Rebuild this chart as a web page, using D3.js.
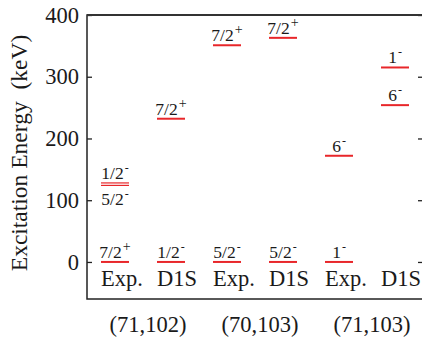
<!DOCTYPE html>
<html>
<head>
<meta charset="utf-8">
<script src="https://cdn.jsdelivr.net/npm/d3@7"></script>
<style>
  body { margin: 0; background: #fff; }
  svg { display: block; }
  svg text { font-family: "Times New Roman", Times, "Liberation Serif", serif; fill: #1a1a1a; }
</style>
</head>
<body>
<div id="chart"></div>
<script>
// nuclei and methods, one column per (nucleus, method)
const groups = ["(71,102)", "(70,103)", "(71,103)"];
const methods = ["Exp.", "D1S"];
const yTicks = [0, 100, 200, 300, 400];

// levels: column index, energy (keV), spin, parity
const levelColumn = [0, 0, 0, 1, 1, 2, 2, 3, 3, 4, 4, 5, 5];
const levelEnergy = [0, 128, 124, 0, 232, 0, 351, 0, 363, 0, 172, 315, 254];
const levelSpin   = ["7/2", "1/2", "5/2", "1/2", "7/2", "5/2", "7/2", "5/2", "7/2", "1", "6", "1", "6"];
const levelParity = ["+", "-", "-", "-", "+", "-", "+", "-", "+", "-", "-", "-", "-"];

const W = 422, H = 340;
const margin = { top: 15, right: -1, bottom: 41, left: 87 };
const serif = "'Times New Roman', Times, 'Liberation Serif', serif";

const svg = d3.select("#chart").append("svg")
  .attr("width", W)
  .attr("height", H);

const columns = [];
groups.forEach(g => methods.forEach(m => columns.push(g + " " + m)));

const x = d3.scaleBand()
  .domain(columns)
  .range([margin.left, W - margin.right])
  .paddingInner(0.5)
  .paddingOuter(0.25);

const y = d3.scaleLinear()
  .domain([-60, 400])
  .range([H - margin.bottom, margin.top]);

const levels = levelEnergy.map((e, i) => ({
  col: columns[levelColumn[i]],
  energy: e,
  spin: levelSpin[i],
  parity: levelParity[i]
}));

// a level sitting just below a neighbour in the same column gets its label underneath
levels.forEach(d => {
  d.close = levels.some(o => o !== d && o.col === d.col && Math.abs(o.energy - d.energy) < 10);
  d.below = levels.some(o => o !== d && o.col === d.col && o.energy > d.energy && o.energy - d.energy < 10);
});

// left axis
svg.append("g")
  .attr("transform", `translate(${margin.left},0)`)
  .call(d3.axisLeft(y).tickValues(yTicks).tickSize(-5).tickPadding(8))
  .call(g => g.select(".domain").remove())
  .call(g => g.selectAll("line").attr("stroke", "#222").attr("stroke-width", 1.3))
  .call(g => g.selectAll("text").style("font-size", "22.5px").attr("fill", "#1a1a1a")
    .style("font-family", serif));

// right axis ticks (frame edge is just outside the picture)
svg.append("g")
  .attr("transform", `translate(${W - margin.right},0)`)
  .call(d3.axisRight(y).tickValues(yTicks).tickSize(-5).tickFormat(""))
  .call(g => g.select(".domain").remove())
  .call(g => g.selectAll("line").attr("stroke", "#222").attr("stroke-width", 1.3));

// frame
svg.append("rect")
  .attr("x", margin.left)
  .attr("y", margin.top)
  .attr("width", W - margin.right - margin.left)
  .attr("height", H - margin.bottom - margin.top)
  .attr("fill", "none")
  .attr("stroke", "#222")
  .attr("stroke-width", 1.5);

svg.append("line")
  .attr("x1", margin.left).attr("x2", W)
  .attr("y1", margin.top).attr("y2", margin.top)
  .attr("stroke", "#333")
  .attr("stroke-width", 2.2);

// level lines
svg.selectAll(".level")
  .data(levels)
  .enter()
  .append("line")
  .attr("class", "level")
  .attr("x1", d => x(d.col))
  .attr("x2", d => x(d.col) + x.bandwidth())
  .attr("y1", d => y(d.energy))
  .attr("y2", d => y(d.energy))
  .attr("stroke", "#e8262a")
  .attr("stroke-width", d => d.close ? 1.2 : 2);

// level labels
const lab = svg.selectAll(".lab")
  .data(levels)
  .enter()
  .append("text")
  .attr("class", "lab")
  .attr("x", d => x(d.col) + x.bandwidth() / 2)
  .attr("y", d => d.below ? y(d.energy) + 20 : y(d.energy) - 4)
  .attr("text-anchor", "middle")
  .style("font-size", "17.5px");

lab.append("tspan").text(d => d.spin);
lab.append("tspan")
  .attr("dy", -7)
  .attr("dx", 1)
  .style("font-size", d => d.parity === "+" ? "14px" : "12px")
  .text(d => d.parity);

// method labels under the ground states
svg.selectAll(".method")
  .data(columns)
  .enter()
  .append("text")
  .attr("class", "method")
  .attr("x", d => x(d))
  .attr("y", y(0) + 24)
  .style("font-size", "22.5px")
  .text((d, i) => methods[i % methods.length]);

// nucleus labels (Z,N)
svg.selectAll(".group")
  .data(groups)
  .enter()
  .append("text")
  .attr("class", "group")
  .attr("x", (d, i) => (x(columns[2 * i]) + x(columns[2 * i + 1]) + x.bandwidth()) / 2 + 5)
  .attr("y", 332)
  .attr("text-anchor", "middle")
  .style("font-size", "22.5px")
  .text(d => d);

// y axis title
svg.append("text")
  .attr("transform", "translate(27,153) rotate(-90)")
  .attr("text-anchor", "middle")
  .style("font-size", "23.5px")
  .style("white-space", "pre")
  .text("Excitation Energy  (keV)");
</script>
</body>
</html>
